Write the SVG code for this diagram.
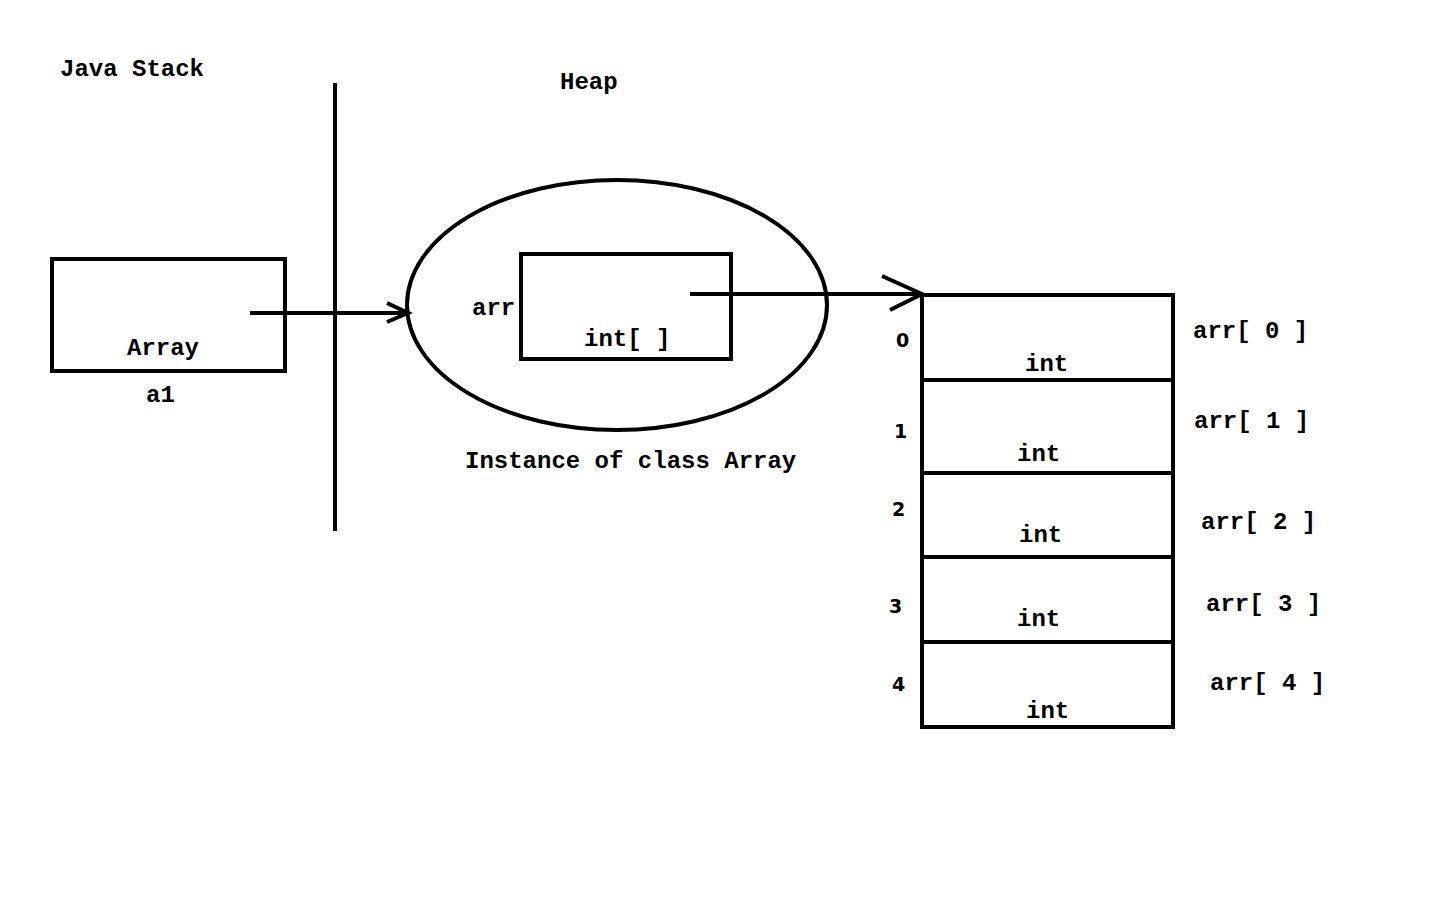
<svg xmlns="http://www.w3.org/2000/svg" width="1440" height="900" viewBox="0 0 1440 900">
<style>
.s{fill:none;stroke:#000;stroke-width:4}
.t{font-family:"Liberation Mono","Courier New",monospace;font-weight:bold;font-size:24px;fill:#000}
.d{font-family:"DejaVu Sans",Verdana,sans-serif;font-weight:bold;font-size:19px;fill:#000}
</style>
<rect width="1440" height="900" fill="#fff"/>
<text class="t" x="60" y="76">Java Stack</text>
<text class="t" x="560" y="89">Heap</text>
<line class="s" x1="335" y1="83" x2="335" y2="531"/>
<g id="stack-a1">
<rect class="s" x="52" y="259" width="233" height="112"/>
<text class="t" x="127" y="355">Array</text>
<text class="t" x="146" y="402">a1</text>
</g>
<g id="heap-instance">
<ellipse class="s" cx="617" cy="305" rx="210" ry="125"/>
<rect class="s" x="521" y="254" width="210" height="105"/>
<text class="t" x="472" y="315">arr</text>
<text class="t" x="584" y="346">int[ ]</text>
<text class="t" x="465" y="468">Instance of class Array</text>
</g>
<g id="array">
<rect class="s" x="922" y="295" width="251" height="432"/>
<line class="s" x1="922" y1="380" x2="1173" y2="380"/>
<line class="s" x1="922" y1="473" x2="1173" y2="473"/>
<line class="s" x1="922" y1="557" x2="1173" y2="557"/>
<line class="s" x1="922" y1="642" x2="1173" y2="642"/>
<text class="t" x="1025" y="371">int</text>
<text class="t" x="1017" y="461">int</text>
<text class="t" x="1019" y="542">int</text>
<text class="t" x="1017" y="626">int</text>
<text class="t" x="1026" y="718">int</text>
<text class="d" x="896" y="347">0</text>
<text class="d" x="894" y="438">1</text>
<text class="d" x="892" y="516">2</text>
<text class="d" x="889" y="613">3</text>
<text class="d" x="892" y="691">4</text>
<text class="t" x="1193" y="338">arr[ 0 ]</text>
<text class="t" x="1194" y="428">arr[ 1 ]</text>
<text class="t" x="1201" y="529">arr[ 2 ]</text>
<text class="t" x="1206" y="611">arr[ 3 ]</text>
<text class="t" x="1210" y="690">arr[ 4 ]</text>
</g>
<g id="connectors">
<line class="s" x1="250" y1="313" x2="408" y2="313"/>
<polyline class="s" points="387,303 408,313 387,322"/>
<line class="s" x1="690" y1="294" x2="922" y2="294"/>
<polyline class="s" points="882,276 922,294 890,310"/>
</g>
</svg>
